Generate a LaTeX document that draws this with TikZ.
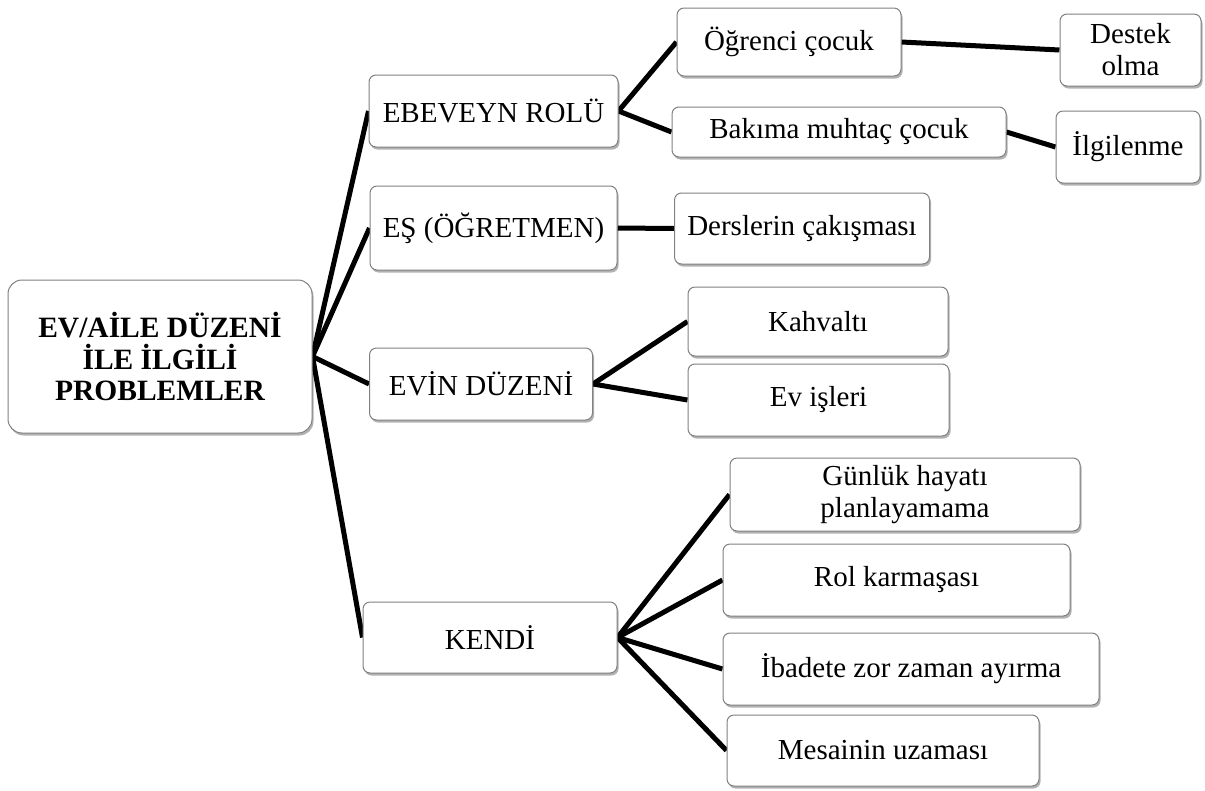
\documentclass[tikz,border=0pt]{standalone}
\usepackage{fontspec}
\setmainfont{Liberation Serif}
\usetikzlibrary{shadows,backgrounds}
\begin{document}
\begin{tikzpicture}[x=1pt,y=-1pt,
 box/.style={draw=black!50, line width=1pt, fill=white, rounded corners=7pt,
   align=center, inner sep=0pt, font=\fontsize{29}{32}\selectfont,
   drop shadow={shadow xshift=1.5pt, shadow yshift=-2.5pt, opacity=0.3, fill=black}},
 link/.style={line width=5pt, black}]
\useasboundingbox (0,0) rectangle (1205,790);
% root
\node[box, rounded corners=14pt, minimum width=304pt, minimum height=153pt,
  font=\fontsize{29.5}{31.5}\selectfont\bfseries] (root) at (160,356.5)
  {EV/AİLE DÜZENİ\\İLE İLGİLİ\\PROBLEMLER};
% level 1
\node[box, minimum width=249pt, minimum height=72pt] (ebe) at (493.5,111) {EBEVEYN ROLÜ};
\node[box, minimum width=247pt, minimum height=84pt] (es) at (493.5,228) {EŞ (ÖĞRETMEN)};
\node[box, minimum width=223pt, minimum height=72pt] (evin) at (481,384) {EVİN DÜZENİ};
\node[box, minimum width=254pt, minimum height=71pt] (kendi) at (490,637.5) {KENDİ};
% level 2
\node[box, minimum width=224pt, minimum height=68pt] (ogr) at (789,42) {Öğrenci çocuk};
\node[box, minimum width=334pt, minimum height=50pt] (bak) at (839,132) {Bakıma muhtaç çocuk};
\node[box, minimum width=255pt, minimum height=71pt] (ders) at (802,228.5) {Derslerin çakışması};
\node[box, minimum width=260pt, minimum height=69pt] (kah) at (818,321.5) {Kahvaltı};
\node[box, minimum width=261pt, minimum height=72pt] (evis) at (818.5,400) {Ev işleri};
\node[box, minimum width=350pt, minimum height=73pt] (gun) at (905,494.5) {Günlük hayatı\\planlayamama};
\node[box, minimum width=347pt, minimum height=72pt] (rol) at (896.5,580) {Rol karmaşası};
\node[box, minimum width=376pt, minimum height=72pt] (iba) at (911,669) {İbadete zor zaman ayırma};
\node[box, minimum width=312pt, minimum height=71pt] (mes) at (883,750.5) {Mesainin uzaması};
% level 3
\node[box, minimum width=141pt, minimum height=72pt] (des) at (1130.5,50) {Destek\\olma};
\node[box, minimum width=144pt, minimum height=72pt] (ilg) at (1128,147) {İlgilenme};
% connectors
\begin{scope}[on background layer]
\draw[link] (root.east) -- (ebe.west);
\draw[link] (root.east) -- (es.west);
\draw[link] (root.east) -- (evin.west);
\draw[link] (root.east) -- (kendi.west);
\draw[link] (ebe.east) -- (ogr.west);
\draw[link] (ebe.east) -- (bak.west);
\draw[link] (ogr.east) -- (des.west);
\draw[link] (bak.east) -- (ilg.west);
\draw[link] (es.east) -- (ders.west);
\draw[link] (evin.east) -- (kah.west);
\draw[link] (evin.east) -- (evis.west);
\draw[link] (kendi.east) -- (gun.west);
\draw[link] (kendi.east) -- (rol.west);
\draw[link] (kendi.east) -- (iba.west);
\draw[link] (kendi.east) -- (mes.west);
\end{scope}
\end{tikzpicture}
\end{document}
